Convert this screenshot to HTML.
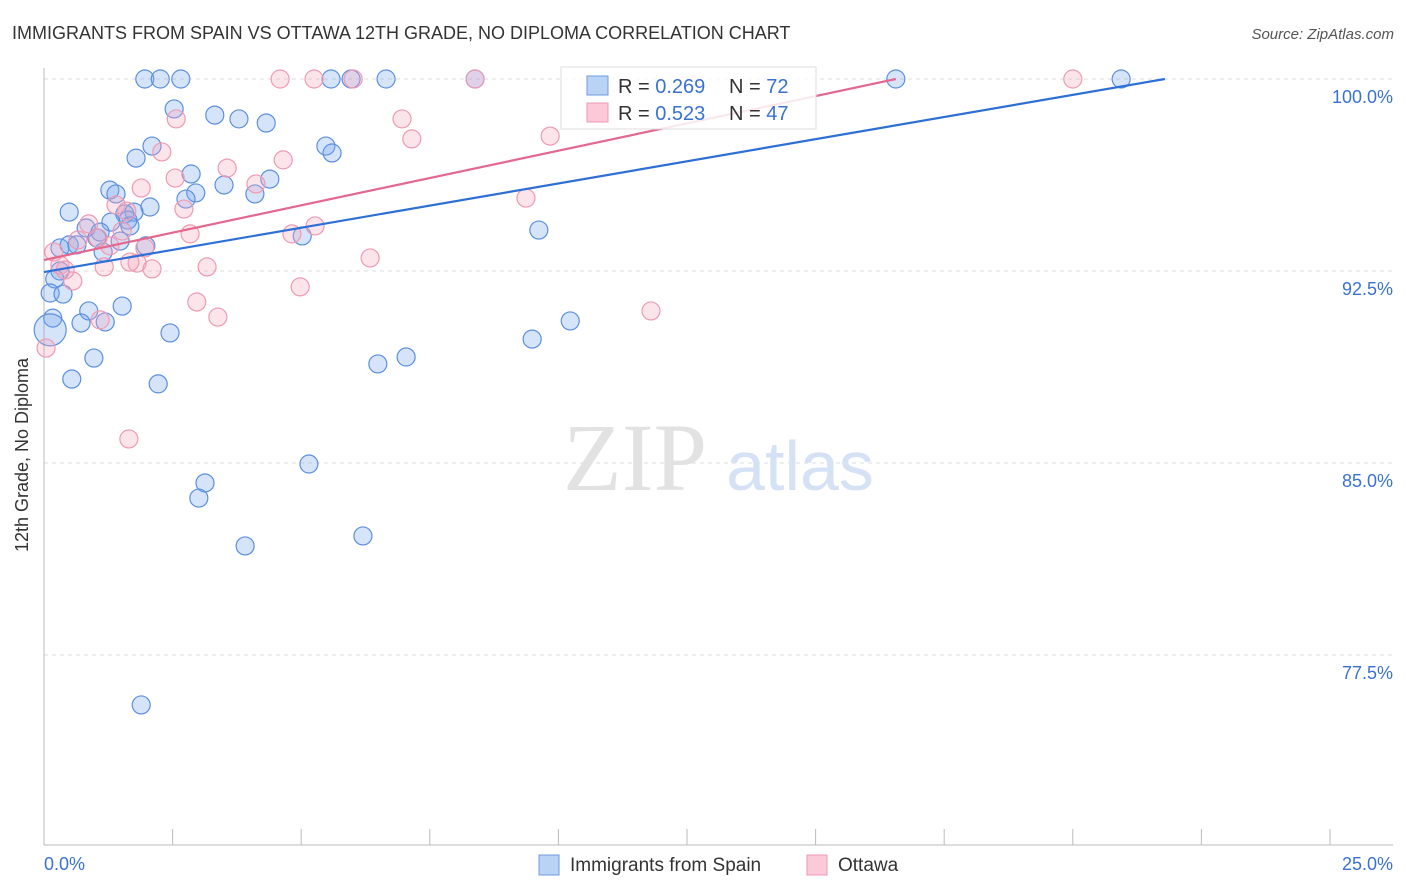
<!DOCTYPE html>
<html><head><meta charset="utf-8"><style>
body{margin:0;background:#fff;font-family:"Liberation Sans",sans-serif}
svg{display:block}
</style></head><body>
<svg id="chart" width="1406" height="892">
<text x="12" y="39" font-size="18" fill="#333">IMMIGRANTS FROM SPAIN VS OTTAWA 12TH GRADE, NO DIPLOMA CORRELATION CHART</text>
<text x="1394" y="39" font-size="15" fill="#555" font-style="italic" text-anchor="end">Source: ZipAtlas.com</text>
<text x="28" y="455" font-size="18" fill="#333" text-anchor="middle" transform="rotate(-90 28 455)">12th Grade, No Diploma</text>
<g id="grid"></g>
<g><text x="635" y="490" font-size="96" fill="#e2e2e2" font-family="Liberation Serif" text-anchor="middle">ZIP</text><text x="800" y="490" font-size="70" fill="#d5e2f5" text-anchor="middle">atlas</text></g>
<g id="pts"></g>
<g id="lines"></g>
<g>
<rect x="561" y="67" width="255" height="62" fill="#fff" fill-opacity="0.85" stroke="#ddd"/>
<rect x="587" y="76" width="21" height="19" fill="#b9d3f5" stroke="#6e9be0"/>
<rect x="587" y="103" width="21" height="19" fill="#fcc9d8" stroke="#ee9ab4"/>
<text x="618" y="93" font-size="20" fill="#333">R = <tspan fill="#3a72d0">0.269</tspan></text>
<text x="729" y="93" font-size="20" fill="#333">N = <tspan fill="#3a72d0">72</tspan></text>
<text x="618" y="120" font-size="20" fill="#333">R = <tspan fill="#3a72d0">0.523</tspan></text>
<text x="729" y="120" font-size="20" fill="#333">N = <tspan fill="#3a72d0">47</tspan></text>
</g>
<g>
<rect x="539" y="855" width="20" height="20" fill="#b9d3f5" stroke="#6e9be0"/>
<text x="570" y="871" font-size="19" fill="#333">Immigrants from Spain</text>
<rect x="807" y="855" width="20" height="20" fill="#fcc9d8" stroke="#ee9ab4"/>
<text x="838" y="871" font-size="19" fill="#333">Ottawa</text>
</g>
</svg>
<script>
const yTicks=[100,92.5,85,77.5];
const yTickLabels=["100.0%","92.5%","85.0%","77.5%"];
const xLabels=["0.0%","25.0%"];
const blueX=[1.96,2.26,2.66,5.58,5.97,6.65,8.38,16.56,20.94,2.53,3.32,3.79,4.32,2.10,1.79,5.48,5.60,2.86,4.39,3.50,1.28,1.40,2.95,4.10,2.76,2.06,0.49,1.75,1.57,1.63,1.30,1.67,0.82,1.09,1.03,1.48,1.98,0.31,0.49,0.64,1.15,5.02,9.62,0.31,0.21,0.12,0.37,0.87,0.17,0.72,1.19,1.52,2.45,0.97,0.54,2.22,6.49,7.04,9.49,10.23,5.15,3.13,3.01,3.91,6.20,1.89,0.12];
const blueY=[100,100,100,100,100,100,100,100,100,98.83,98.59,98.44,98.28,97.38,96.91,97.38,97.11,96.29,96.09,95.86,95.66,95.51,95.55,95.51,95.31,95.00,94.80,94.80,94.73,94.49,94.41,94.26,94.18,94.02,93.79,93.67,93.48,93.40,93.52,93.52,93.24,93.87,94.10,92.50,92.19,91.64,91.60,90.94,90.66,90.47,90.51,91.13,90.08,89.10,88.28,88.09,88.87,89.14,89.84,90.55,84.96,84.22,83.63,81.76,82.15,75.55,90.20];
const pinkX=[4.59,5.25,6.01,8.38,20.00,2.57,6.96,7.15,9.84,2.29,3.56,4.65,2.55,4.12,1.89,2.72,1.40,1.61,0.87,0.66,1.05,1.96,0.19,0.31,0.56,0.41,1.17,1.81,2.10,3.17,2.84,4.82,5.27,6.34,9.37,2.97,3.38,4.98,1.09,11.80,1.65,0.04,1.52,1.28,1.67];
const pinkY=[100,100,100,100,100,98.44,98.44,97.66,97.77,97.15,96.52,96.84,96.13,95.90,95.74,94.92,95.08,94.84,94.34,93.71,93.79,93.40,93.24,92.73,92.11,92.54,92.66,92.81,92.58,92.66,93.95,93.95,94.26,93.01,95.35,91.29,90.70,91.88,90.59,90.94,85.94,89.49,94.06,93.48,92.85];
const blueTrend=[92.46,21.79,100];
const pinkTrend=[92.93,16.56,100];
const X0=44,X1=1330,Y100=79,Ypx=192/7.5;
const sx=v=>X0+v/25*(X1-X0);
const sy=v=>Y100+(100-v)*Ypx;
const NS="http://www.w3.org/2000/svg";
function mk(t,a,p){const e=document.createElementNS(NS,t);for(const k in a)e.setAttribute(k,a[k]);p.appendChild(e);return e;}
const grid=document.getElementById('grid');
yTicks.forEach((t,i)=>{
 const l=mk('line',{x1:44,x2:1393,y1:sy(t),y2:sy(t),stroke:'#ddd','stroke-dasharray':'4,4'},grid);
 
 
 const tx=mk('text',{x:1393,y:sy(t)+24,'font-size':18,fill:'#3a72d0','text-anchor':'end'},grid);
 tx.textContent=yTickLabels[i];
 
 
});
const ax=mk('line',{x1:44,x2:44,y1:68,y2:845,stroke:'#bbb'},grid);


const bx=mk('line',{x1:44,x2:1393,y1:845,y2:845,stroke:'#bbb'},grid);


for(let i=0;i<=10;i++){
 const t=mk('line',{x1:sx(i*2.5),x2:sx(i*2.5),y1:829,y2:845,stroke:'#bbb'},grid);
 
 
}
const xl0=mk('text',{x:44,y:870,'font-size':18,fill:'#3a72d0'},grid);xl0.textContent=xLabels[0];


const xl1=mk('text',{x:1393,y:870,'font-size':18,fill:'#3a72d0','text-anchor':'end'},grid);xl1.textContent=xLabels[1];


const pts=document.getElementById('pts');
blueX.forEach((x,i)=>{
 const c=mk('circle',{cx:sx(x),cy:sy(blueY[i]),r:i===blueX.length-1?16:9,fill:'rgba(120,165,235,0.3)',stroke:'#5b8fe0','stroke-width':1.2},pts);
 
 
});
pinkX.forEach((x,i)=>{
 const c=mk('circle',{cx:sx(x),cy:sy(pinkY[i]),r:9,fill:'rgba(245,165,190,0.3)',stroke:'#ee9ab4','stroke-width':1.2},pts);
 
 
});
const lines=document.getElementById('lines');
const bl=mk('line',{x1:sx(0),y1:sy(blueTrend[0]),x2:sx(blueTrend[1]),y2:sy(blueTrend[2]),stroke:'#2e6fd6','stroke-width':2.2},lines);


const pl=mk('line',{x1:sx(0),y1:sy(pinkTrend[0]),x2:sx(pinkTrend[1]),y2:sy(pinkTrend[2]),stroke:'#e4678f','stroke-width':2.2},lines);


</script>
</body></html>
